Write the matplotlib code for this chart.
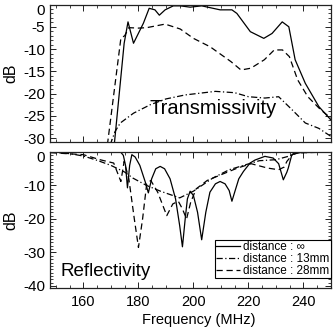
import matplotlib
matplotlib.use("Agg")
import matplotlib.pyplot as plt
from matplotlib.ticker import MultipleLocator
from matplotlib.transforms import ScaledTranslation

plt.rcParams['font.family'] = ['Liberation Sans', 'DejaVu Sans']
plt.rcParams['axes.unicode_minus'] = False

# --- Transmissivity (top panel) ---
trans_inf_f = [171.2, 174.8, 176.2, 178.2, 181.8, 183.9, 186.0, 187.6, 189.7, 192.7, 195.2,
               198.8, 203.0, 209.7, 214.0, 215.8, 220.7, 225.6, 228.6, 232.3, 234.7, 237.0,
               240.7, 245.6, 250.0]
trans_inf_db = [-31.5, -8.7, -3.9, -8.7, -4.2, -0.85, -1.2, -2.4, -1.2, -0.3, -0.3,
                -0.6, -0.3, -1.2, -1.2, -2.0, -6.1, -7.6, -6.5, -3.9, -5.0, -12.4,
                -17.7, -22.9, -25.9]

trans_13_f = [169.7, 171.5, 173.4, 178.2, 184.3, 190.0, 197.0, 208.0, 215.0, 220.0, 226.0,
              231.0, 236.0, 240.7, 245.6, 250.0]
trans_13_db = [-31.5, -28.5, -26.6, -24.4, -22.5, -21.2, -20.3, -19.5, -19.8, -20.7, -21.0,
               -20.7, -23.7, -26.6, -27.8, -29.6]

trans_28_f = [168.7, 173.6, 175.0, 176.5, 180.0, 183.0, 189.7, 195.2, 200.0, 206.1, 213.6,
              217.3, 220.9, 225.8, 229.4, 232.4, 234.9, 237.9, 241.6, 246.4, 250.0]
trans_28_db = [-31.5, -7.6, -7.0, -5.2, -5.3, -5.2, -4.4, -5.5, -7.6, -9.5, -12.8,
               -14.7, -14.3, -12.4, -10.2, -10.2, -11.7, -16.9, -20.7, -23.7, -25.5]

# --- Reflectivity (bottom panel) ---
refl_inf_f = [148.0, 173.5, 174.5, 175.3, 176.0, 176.8, 177.6, 178.8, 180.5, 182.5, 183.6,
              184.8, 186.3, 187.9, 189.5, 191.5, 193.5, 195.0, 196.0, 197.0, 197.8, 198.8,
              200.0, 201.5, 203.0, 204.5, 206.0, 208.0, 209.7, 211.5, 213.0, 214.0, 215.0,
              216.5, 218.2, 220.6, 222.4, 226.0, 229.0, 231.0, 232.7, 234.0, 234.5, 235.8,
              239.4, 250.0]
refl_inf_db = [0.0, 0.0, -1.0, -4.0, -10.7, -4.0, -0.8, -1.5, -4.0, -9.0, -12.2,
               -8.0, -5.0, -4.3, -5.0, -8.0, -14.0, -22.0, -28.3, -20.0, -14.0, -11.7,
               -13.0, -18.0, -26.2, -18.0, -12.0, -9.5, -8.8, -9.5, -11.5, -14.7, -12.0,
               -8.0, -5.8, -3.3, -2.4, -1.3, -1.8, -3.5, -8.3, -6.0, -4.8, -0.8,
               0.0, 0.0]

refl_13_f = [148.0, 155.0, 160.0, 165.0, 170.0, 175.0, 178.0, 183.0, 188.0, 195.0, 200.0,
             207.0, 213.0, 219.0, 224.0, 230.0, 234.5, 238.0, 250.0]
refl_13_db = [0.0, -0.5, -1.2, -2.5, -4.0, -6.0, -7.8, -10.0, -11.7, -13.7, -11.7,
              -7.8, -5.3, -3.8, -2.6, -2.3, -1.3, -0.2, 0.0]

refl_28_f = [148.0, 160.0, 166.0, 171.0, 173.6, 174.8, 176.5, 178.5, 180.0, 181.5, 183.0,
             184.5, 187.0, 190.3, 192.5, 194.5, 196.0, 197.5, 199.0, 201.0, 205.0, 210.0,
             216.0, 221.0, 227.0, 231.0, 233.0, 234.0, 236.5, 250.0]
refl_28_db = [-0.2, -0.8, -2.3, -3.3, -8.8, -2.8, -8.0, -20.0, -28.5, -20.0, -9.5,
              -8.5, -12.0, -19.0, -15.5, -14.7, -17.0, -20.0, -15.0, -11.0, -8.5, -6.8,
              -4.8, -3.5, -4.8, -5.3, -4.5, -2.8, -0.3, 0.0]

labels = ["distance : \u221e", "distance : 13mm", "distance : 28mm"]

solid = '-'
dashdot = (0, (5, 2, 1, 2))
dashed = (0, (5, 3))
lw = 0.9

fig = plt.figure(figsize=(3.35, 3.31), dpi=100)
ax_t = fig.add_axes([0.1507, 0.5719, 0.837, 0.4145])
ax_b = fig.add_axes([0.1507, 0.1284, 0.837, 0.4124])


def style(ax):
    ax.tick_params(which='both', direction='in', top=True, right=True, color='#222222')
    ax.tick_params(which='major', length=4, width=0.7)
    ax.tick_params(which='minor', length=2, width=0.6)
    ax.tick_params(axis='y', labelsize=11, pad=4)
    ax.tick_params(axis='x', labelsize=10.5, pad=5)
    ax.xaxis.set_major_locator(MultipleLocator(20))
    ax.xaxis.set_minor_locator(MultipleLocator(5))
    ax.yaxis.set_minor_locator(MultipleLocator(1))
    for sp in ax.spines.values():
        sp.set_linewidth(0.9)
        sp.set_color('#222222')
    ax.set_xlim(148, 250)


# Top panel
ax_t.plot(trans_inf_f, trans_inf_db, color='black', ls=solid, lw=lw)
ax_t.plot(trans_13_f, trans_13_db, color='black', ls=dashdot, lw=lw)
ax_t.plot(trans_28_f, trans_28_db, color='black', ls=dashed, lw=lw)
style(ax_t)
ax_t.set_ylim(-30.8, 0)
ax_t.yaxis.set_major_locator(MultipleLocator(5))
ax_t.set_xticklabels([])
ax_t.set_ylabel("dB", fontsize=11.5, va='center')
ax_t.yaxis.set_label_coords(-0.14, 0.5)
ax_t.text(0.579, 0.24, "Transmissivity", transform=ax_t.transAxes,
          ha='center', va='center', fontsize=14.5)

# Bottom panel
ax_b.plot(refl_inf_f, refl_inf_db, color='black', ls=solid, lw=lw, label=labels[0])
ax_b.plot(refl_13_f, refl_13_db, color='black', ls=dashdot, lw=lw, label=labels[1])
ax_b.plot(refl_28_f, refl_28_db, color='black', ls=dashed, lw=lw, label=labels[2])
style(ax_b)
ax_b.set_ylim(-40.75, 0)
ax_b.yaxis.set_major_locator(MultipleLocator(10))
ax_b.set_ylabel("dB", fontsize=11.5, va='center')
ax_b.yaxis.set_label_coords(-0.14, 0.5)
ax_b.set_xlabel("Frequency (MHz)", fontsize=10.5, va='center')
ax_b.xaxis.set_label_coords(0.53, -0.23)
ax_b.text(0.198, 0.121, "Reflectivity", transform=ax_b.transAxes,
          ha='center', va='center', fontsize=13.5)

leg = ax_b.legend(loc='lower right', bbox_to_anchor=(1.0, 0.075), borderaxespad=0,
                  fontsize=8.5, handlelength=2.0, handletextpad=0.3, borderpad=0.1,
                  labelspacing=0.0, fancybox=False, framealpha=1, edgecolor='black')
leg.get_frame().set_linewidth(0.8)

# nudge the "0" labels down like the original
fig.canvas.draw()
shift = ScaledTranslation(0, -4.5 / 100, fig.dpi_scale_trans)
for ax in (ax_t, ax_b):
    for lab in ax.get_yticklabels():
        if lab.get_text() in ('0', '\u22120'):
            lab.set_transform(lab.get_transform() + shift)

fig.savefig("out.png", dpi=100)
